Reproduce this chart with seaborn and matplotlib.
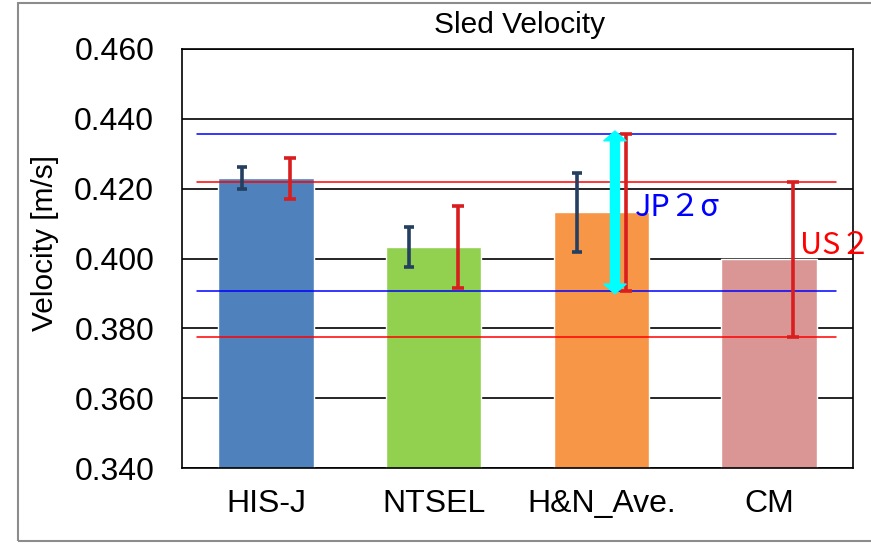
import numpy as np
import pandas as pd
import matplotlib
matplotlib.use("Agg")
import matplotlib.pyplot as plt
from matplotlib.patches import FancyArrowPatch, Rectangle
from matplotlib.ticker import FixedLocator, FormatStrFormatter
import seaborn as sns

# Sled velocity per test facility
categories = ["HIS-J", "NTSEL", "H&N_Ave.", "CM"]
mean_velocity = [0.4230, 0.4032, 0.4132, 0.3998]
sigma_1 = [0.0031, 0.0057, 0.0112, np.nan]      # ±1σ (dark bars)
sigma_2 = [0.0059, 0.0117, 0.0225, 0.0222]      # ±2σ (red bars)
bar_colors = ["#4F81BD", "#92D050", "#F79646", "#D99694"]
y_ticks = [0.340, 0.360, 0.380, 0.400, 0.420, 0.440, 0.460]

sns.set_style("white")
plt.rcParams["font.family"] = ["Liberation Sans", "DejaVu Sans"]
plt.rcParams["text.color"] = "black"
plt.rcParams["xtick.color"] = "black"
plt.rcParams["ytick.color"] = "black"
plt.rcParams["xtick.labelcolor"] = "black"
plt.rcParams["ytick.labelcolor"] = "black"
cjk = ["Noto Sans CJK JP", "DejaVu Sans"]

df = pd.DataFrame({"facility": categories, "velocity": mean_velocity})

fig = plt.figure(figsize=(8.71, 5.44), dpi=100)
ax = fig.add_axes([182 / 871, 1 - 468 / 544, 671 / 871, 419 / 544])

sns.barplot(data=df, x="facility", y="velocity", hue="facility",
            palette=bar_colors, legend=False, width=0.57,
            errorbar=None, saturation=1, ax=ax, zorder=2)

ax.set_ylim(0.34, 0.46)
ax.set_xlim(-0.5, 3.5)
ax.yaxis.set_major_locator(FixedLocator(y_ticks))
ax.yaxis.set_major_formatter(FormatStrFormatter("%.3f"))
ax.grid(axis="y", color="black", linewidth=1.2, zorder=0)
ax.set_axisbelow(True)
for s in ax.spines.values():
    s.set_visible(True)
    s.set_color("black")
    s.set_linewidth(1.2)

ax.set_xlabel("")
ax.set_ylabel("")
ax.tick_params(axis="y", length=0, pad=20, labelsize=23)
ax.tick_params(axis="x", which="major", length=0, pad=15, labelsize=23)
ax.xaxis.set_minor_locator(FixedLocator([0.5, 1.5, 2.5]))
ax.tick_params(axis="x", which="minor", direction="in", length=4,
               width=1.2, color="black")

x = np.arange(len(categories))
ax.errorbar(x - 0.144, mean_velocity, yerr=sigma_1, fmt="none",
            ecolor="#243F60", elinewidth=2.6, capsize=3.5, capthick=2.6, zorder=4)
ax.errorbar(x + 0.145, mean_velocity, yerr=sigma_2, fmt="none",
            ecolor="#D81E1E", elinewidth=2.6, capsize=4, capthick=2.6, zorder=4)

# 2σ bands: JP from H&N average, US from CM
jp_lo = mean_velocity[2] - sigma_2[2]
jp_hi = mean_velocity[2] + sigma_2[2]
us_lo = mean_velocity[3] - sigma_2[3]
us_hi = mean_velocity[3] + sigma_2[3]
for yv in (jp_lo, jp_hi):
    ax.plot([-0.41, 3.40], [yv, yv], color="#0000FF", linewidth=1.1, zorder=3)
for yv in (us_lo, us_hi):
    ax.plot([-0.41, 3.40], [yv, yv], color="#FF0000", linewidth=1.1, zorder=3)

# double-headed cyan arrow spanning the JP band
ax_x = 2.081
mid = (jp_lo + jp_hi) / 2
for end in (jp_hi + 0.0008, jp_lo - 0.0008):
    ax.add_patch(FancyArrowPatch((ax_x, mid), (ax_x, end),
                                 arrowstyle="simple,head_length=7,head_width=16,tail_width=6.5",
                                 mutation_scale=1, shrinkA=0, shrinkB=0,
                                 color="#00FFFF", zorder=5))

ax.text(2.20, 0.4145, "JP２σ", color="#0000FF", fontsize=22,
        family=cjk, va="center", ha="left", zorder=6)
ax.text(3.184, 0.4036, "US２", color="#FF0000", fontsize=22,
        family=cjk, va="center", ha="left", zorder=6, clip_on=False)

fig.text(520 / 871, 1 - 25 / 544, "Sled Velocity", fontsize=21.5,
         ha="center", va="center")
fig.text(45 / 871, 1 - 243 / 544, "Velocity [m/s]", fontsize=21.5,
         rotation=90, ha="center", va="center")

# outer chart frame
fig.add_artist(Rectangle((18 / 871, 3 / 544), 1.0, 1 - 6 / 544,
                         transform=fig.transFigure, fill=False,
                         edgecolor="#8C8C8C", linewidth=1.5))

fig.savefig("out.png", dpi=100, facecolor="white")
